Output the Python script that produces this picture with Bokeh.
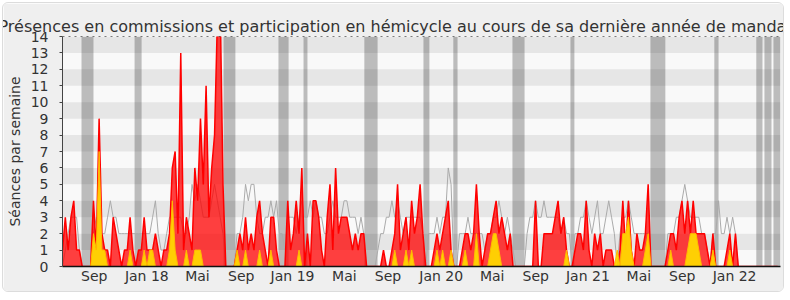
from bokeh.plotting import figure
from bokeh.models import FixedTicker, Span, Range1d
from bokeh.embed import file_html
from bokeh.resources import INLINE

# ---------------- data (weekly values) ----------------
n_weeks = 255
weeks = list(range(n_weeks))

# participation en hémicycle (red area)
hemicycle = [
    1, 3, 1, 3, 4, 1, 1, 0, 0, 0, 0, 4, 1, 9, 2, 1, 1, 0, 3, 2,
    1, 0, 1, 1, 3, 1, 0, 1, 1, 3, 1, 1, 1, 2, 1, 0, 1, 1, 2, 6,
    7, 2, 13, 1, 3, 2, 1, 6, 4, 9, 5, 11, 3, 6, 8, 15, 16, 5, 0, 0,
    0, 0, 1, 2, 1, 3, 1, 2, 1, 3, 4, 2, 1, 0, 3, 3, 1, 0, 0, 0,
    4, 1, 2, 4, 2, 6, 0, 2, 0, 4, 4, 3, 1, 0, 3, 5, 1, 6, 2, 3,
    3, 3, 2, 1, 2, 1, 2, 2, 0, 0, 0, 0, 0, 0, 1, 0, 0, 1, 2, 5,
    1, 2, 3, 1, 4, 2, 3, 5, 2, 0, 0, 0, 1, 2, 1, 2, 3, 4, 1, 0,
    0, 0, 1, 2, 2, 1, 2, 5, 2, 0, 1, 2, 2, 3, 4, 2, 3, 2, 1, 2,
    0, 0, 0, 0, 0, 0, 0, 0, 4, 0, 0, 2, 2, 2, 2, 3, 4, 2, 3, 1,
    0, 0, 1, 2, 2, 1, 4, 1, 0, 2, 1, 2, 0, 1, 1, 1, 0, 0, 1, 4,
    1, 4, 1, 0, 2, 1, 1, 2, 5, 0, 0, 0, 0, 0, 0, 1, 2, 2, 1, 3,
    4, 2, 4, 2, 4, 2, 2, 2, 2, 1, 0, 2, 0, 0, 0, 0, 1, 2, 0, 2,
    0, 0, 0, 0, 0, 0, 0, 0, 0, 0, 0, 0, 0, 0, 0,
]

# présences en commission (yellow area)
commission = [
    0, 0, 0, 0, 0, 0, 0, 0, 0, 0, 0, 2, 1, 7, 1, 1, 0, 0, 0, 0,
    0, 0, 0, 0, 1, 0, 0, 0, 0, 1, 0, 1, 1, 0, 0, 0, 0, 0, 1, 4,
    1, 0, 0, 0, 1, 0, 0, 1, 1, 1, 0, 0, 0, 0, 0, 0, 0, 0, 0, 0,
    0, 0, 1, 0, 0, 1, 0, 0, 0, 0, 1, 0, 0, 0, 1, 0, 0, 0, 0, 0,
    0, 0, 0, 0, 1, 0, 0, 0, 0, 0, 0, 0, 0, 0, 0, 0, 0, 0, 0, 0,
    0, 0, 0, 0, 0, 0, 0, 0, 0, 0, 0, 0, 0, 0, 0, 0, 0, 0, 1, 0,
    0, 0, 1, 0, 1, 0, 0, 0, 0, 0, 0, 0, 0, 1, 0, 1, 0, 0, 1, 0,
    0, 0, 0, 1, 0, 0, 0, 2, 0, 0, 0, 0, 1, 2, 2, 1, 0, 0, 0, 0,
    0, 0, 0, 0, 0, 0, 0, 0, 0, 0, 0, 0, 0, 0, 0, 0, 0, 0, 0, 1,
    0, 0, 0, 0, 0, 0, 0, 0, 0, 0, 0, 0, 0, 0, 0, 0, 0, 1, 0, 2,
    2, 3, 1, 0, 0, 0, 0, 1, 2, 0, 0, 0, 0, 0, 0, 0, 1, 0, 0, 0,
    0, 0, 1, 2, 2, 2, 1, 0, 0, 0, 0, 1, 0, 0, 0, 0, 0, 1, 0, 0,
    0, 0, 0, 0, 0, 0, 0, 0, 0, 0, 0, 0, 0, 0, 0,
]

# médiane des députés (grey line)
mediane = [
    0, 1, 2, 3, 3, 3, 1, 0, 0, 0, 0, 2, 3, 2, 2, 2, 3, 4, 3, 3,
    2, 2, 2, 2, 2, 2, 2, 2, 2, 2, 2, 2, 3, 4, 2, 1, 1, 2, 3, 3,
    3, 3, 3, 2, 2, 3, 5, 4, 5, 4, 3, 3, 3, 4, 5, 4, 3, 2, 0, 0,
    0, 0, 2, 2, 3, 5, 4, 5, 5, 3, 2, 2, 3, 3, 4, 3, 4, 2, 2, 1,
    3, 3, 3, 2, 3, 4, 3, 3, 4, 3, 4, 3, 3, 2, 2, 3, 4, 3, 3, 3,
    4, 4, 3, 3, 3, 2, 3, 2, 0, 0, 0, 0, 1, 2, 2, 3, 3, 4, 3, 4,
    3, 2, 3, 3, 3, 3, 3, 3, 2, 0, 2, 2, 2, 3, 2, 3, 3, 6, 5, 0,
    0, 2, 2, 2, 3, 2, 2, 2, 2, 2, 1, 2, 2, 3, 3, 4, 3, 2, 3, 2,
    1, 0, 0, 0, 0, 2, 3, 3, 4, 3, 3, 4, 3, 3, 3, 3, 3, 2, 3, 2,
    2, 0, 2, 2, 3, 3, 4, 3, 2, 3, 4, 2, 2, 3, 4, 3, 2, 0, 2, 3,
    3, 4, 3, 2, 2, 2, 2, 2, 2, 0, 0, 0, 0, 0, 0, 2, 2, 2, 3, 3,
    4, 5, 4, 3, 3, 3, 3, 2, 2, 1, 0, 2, 2, 4, 2, 2, 3, 2, 3, 2,
    0, 0, 0, 0, 0, 0, 0, 0, 0, 0, 0, 0, 0, 0, 0,
]

# vacances parlementaires (in weeks)
vac_start = [6.75, 25.6, 57.2, 76.7, 85.6, 107.2, 128.2, 138.8, 159.8, 180.4, 208.8, 231.5, 246.4, 249.3, 252.5]
vac_end = [11.0, 28.1, 61.4, 80.3, 87.0, 111.9, 130.3, 140.3, 164.1, 181.8, 214.1, 233.0, 248.6, 251.8, 255.0]

# x tick positions (weeks) and labels
tick_weeks = [11.26, 29.94, 47.94, 63.5, 81.7, 100.1, 115.6, 134.5, 152.6, 168.1, 186.6, 204.7, 220.1, 238.7]
tick_labels = ["Sep", "Jan 18", "Mai", "Sep", "Jan 19", "Mai", "Sep", "Jan 20",
               "Mai", "Sep", "Jan 21", "Mai", "Sep", "Jan 22"]

y_max = 14
y_label = "Séances par semaine"
title_text = ("Présences en commissions et participation en hémicycle "
              "au cours de sa dernière année de mandat")

# ---------------- figure ----------------
p = figure(
    width=782, height=290,
    x_range=Range1d(0, n_weeks), y_range=Range1d(0, y_max),
    output_backend="svg", toolbar_location=None,
    min_border_left=59, min_border_right=5, min_border_top=33, min_border_bottom=27,
    background_fill_color="#f9f9f9", border_fill_color="#efefef",
    styles={"margin-left": "2px", "margin-top": "2px",
            "border": "1px solid #dcdcdc", "border-radius": "6px",
            "overflow": "hidden"},
)
p.outline_line_color = None
p.grid.visible = False

# vacation bars
p.quad(left=vac_start, right=vac_end, bottom=0, top=y_max,
       fill_color="#bcbcbc", line_color=None)

# alternating bands
odd = list(range(1, y_max, 2))
p.quad(left=0, right=n_weeks, bottom=odd, top=[k + 1 for k in odd],
       fill_color="black", fill_alpha=0.075, line_color=None)

# median line
p.line(weeks, mediane, line_color="#aaaaaa", line_width=1)

# hemicycle
p.varea(x=weeks, y1=0, y2=hemicycle, fill_color="#ff0000", fill_alpha=0.75)
p.line(weeks, hemicycle, line_color="#ff0000", line_width=1.5)

# commission
p.varea(x=weeks, y1=0, y2=commission, fill_color="#ffd700", fill_alpha=0.95)
p.line(weeks, commission, line_color="#ffbb00", line_width=1)

# top dotted line
p.add_layout(Span(location=y_max, dimension="width", line_color="black",
                  line_dash="dotted", line_width=1))

# title
p.title.text = title_text
p.title.text_font = "DejaVu Sans"
p.title.text_font_size = "16px"
p.title.text_font_style = "normal"
p.title.text_color = "#333333"
p.title.align = "left"
p.title.offset = -64
p.title.standoff = 2

# axes
p.xaxis.ticker = FixedTicker(ticks=tick_weeks)
p.xaxis.major_label_overrides = {t: l for t, l in zip(tick_weeks, tick_labels)}
p.xaxis.major_tick_out = 0
p.xaxis.major_tick_in = 0
p.xaxis.minor_tick_out = 0
p.xaxis.minor_tick_in = 0
p.xaxis.major_label_standoff = 1
p.xaxis.axis_line_color = "#111111"
p.xaxis.axis_line_width = 1.5

p.yaxis.ticker = FixedTicker(ticks=list(range(0, y_max + 1)))
p.yaxis.major_tick_out = 3
p.yaxis.major_tick_in = 0
p.yaxis.minor_tick_out = 0
p.yaxis.minor_tick_in = 0
p.yaxis.major_label_standoff = 11
p.yaxis.axis_line_color = "#444444"
p.yaxis.major_tick_line_color = "#444444"
p.yaxis.axis_label = y_label
p.yaxis.axis_label_standoff = 5
p.yaxis.axis_label_text_font = "DejaVu Sans"
p.yaxis.axis_label_text_font_size = "14px"
p.yaxis.axis_label_text_font_style = "normal"
p.yaxis.axis_label_text_color = "#333333"

for ax in (p.xaxis, p.yaxis):
    ax.major_label_text_font = "DejaVu Sans"
    ax.major_label_text_font_size = "14px"
    ax.major_label_text_color = "#333333"

open("out.html", "w").write(file_html(p, INLINE))
